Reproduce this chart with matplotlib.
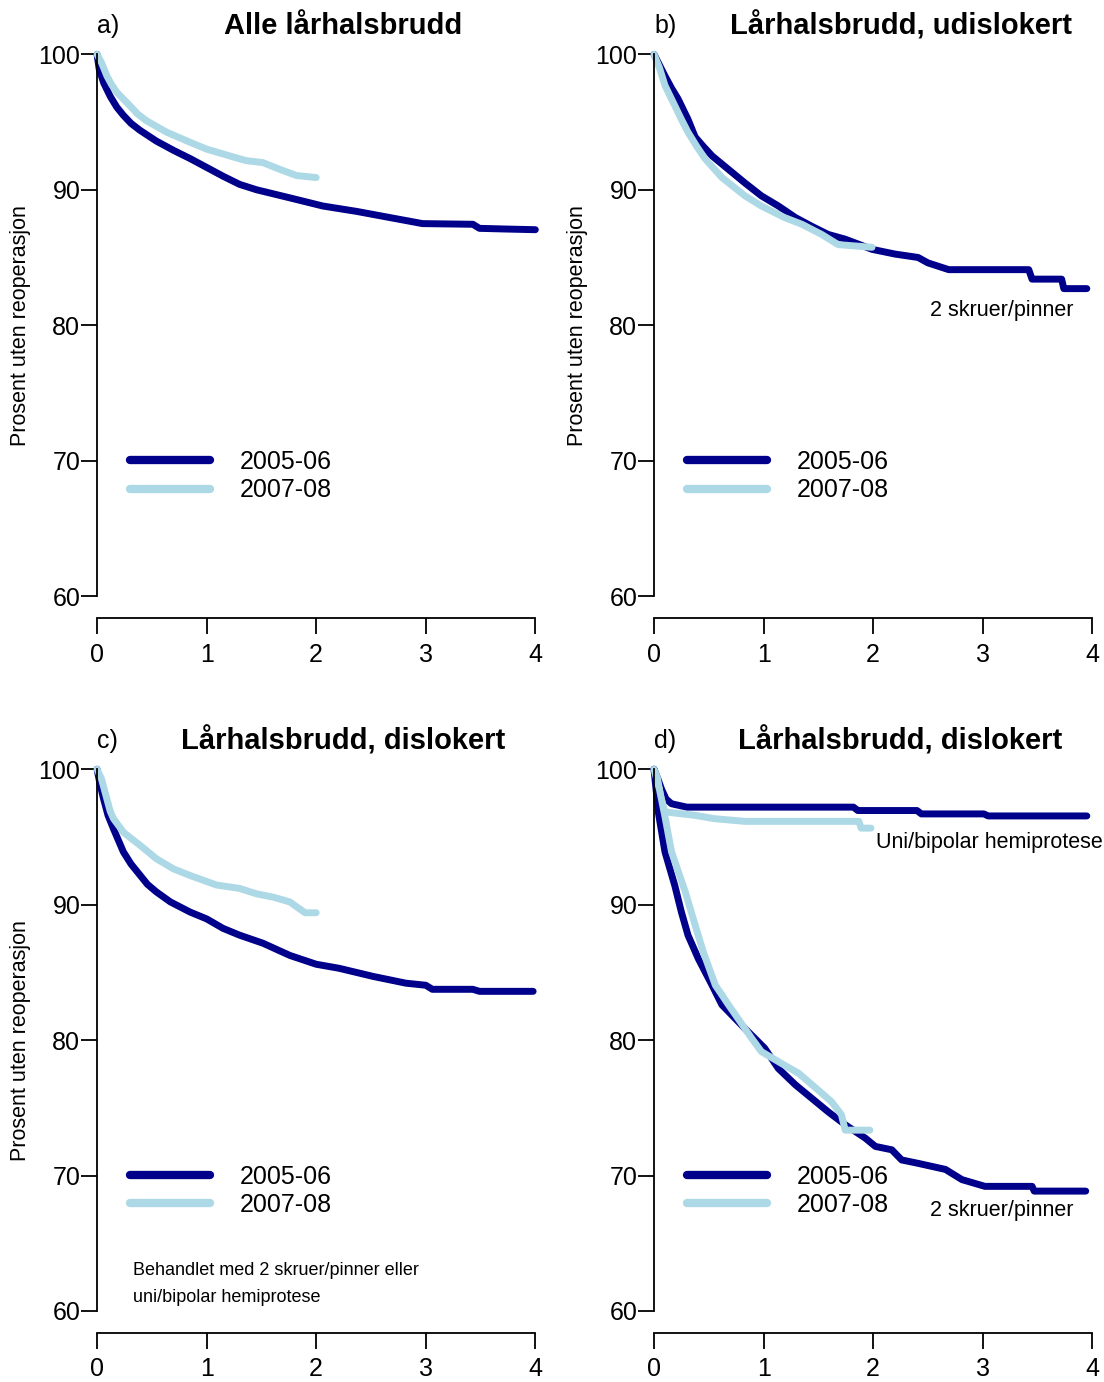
import matplotlib
matplotlib.use("Agg")
import matplotlib.pyplot as plt

plt.rcParams["font.family"] = ["Liberation Sans", "DejaVu Sans"]

# ---------------- DATA (år etter operasjon, prosent uten reoperasjon) ----------------

# a) Alle lårhalsbrudd
a_t_0506 = [0, 0.02, 0.06, 0.12, 0.18, 0.24, 0.31, 0.39, 0.54, 0.70, 0.85, 1.00, 1.15, 1.30,
            1.455, 1.76, 2.06, 2.37, 2.67, 2.97, 3.43, 3.49, 3.73, 4.0]
a_s_0506 = [100, 98.9, 97.9, 96.9, 96.1, 95.5, 94.9, 94.4, 93.6, 92.9, 92.3, 91.65, 91.0, 90.4,
            90.0, 89.4, 88.8, 88.4, 87.95, 87.5, 87.45, 87.15, 87.1, 87.05]
a_t_0708 = [0, 0.04, 0.09, 0.13, 0.18, 0.24, 0.30, 0.37, 0.45, 0.635, 0.85, 1.0, 1.21, 1.36,
            1.515, 1.67, 1.82, 2.0]
a_s_0708 = [100, 99.4, 98.4, 97.8, 97.2, 96.7, 96.2, 95.6, 95.1, 94.25, 93.5, 93.0, 92.5, 92.15,
            92.0, 91.5, 91.05, 90.9]

# b) Lårhalsbrudd, udislokert
b_t_0506 = [0, 0.05, 0.10, 0.16, 0.22, 0.31, 0.375, 0.45, 0.53, 0.68, 0.83, 0.98, 1.135, 1.29,
            1.44, 1.59, 1.745, 1.99, 2.20, 2.41, 2.50, 2.69, 3.42, 3.45, 3.72, 3.74, 3.95]
b_s_0506 = [100, 99.2, 98.4, 97.5, 96.7, 95.2, 93.9, 93.2, 92.5, 91.5, 90.5, 89.55, 88.8, 87.95,
            87.3, 86.7, 86.35, 85.6, 85.25, 85.0, 84.6, 84.1, 84.1, 83.4, 83.4, 82.7, 82.7]
b_t_0708 = [0, 0.05, 0.10, 0.19, 0.25, 0.31, 0.39, 0.465, 0.62, 0.83, 0.98, 1.19, 1.35, 1.53,
            1.68, 1.99]
b_s_0708 = [100, 99.0, 97.7, 96.2, 95.2, 94.25, 93.2, 92.3, 90.9, 89.55, 88.8, 87.95, 87.45, 86.7,
            85.95, 85.75]

# c) Lårhalsbrudd, dislokert
c_t_0506 = [0, 0.03, 0.06, 0.10, 0.15, 0.24, 0.31, 0.39, 0.46, 0.54, 0.67, 0.85, 1.0, 1.15,
            1.30, 1.515, 1.76, 2.0, 2.21, 2.52, 2.82, 3.0, 3.06, 3.43, 3.49, 3.98]
c_s_0506 = [100, 98.8, 97.8, 96.6, 95.6, 93.9, 93.0, 92.2, 91.5, 90.95, 90.2, 89.45, 88.95, 88.25,
            87.75, 87.15, 86.25, 85.6, 85.3, 84.7, 84.2, 84.05, 83.75, 83.75, 83.6, 83.6]
c_t_0708 = [0, 0.04, 0.09, 0.12, 0.15, 0.20, 0.24, 0.31, 0.39, 0.54, 0.695, 0.85, 1.09, 1.30,
            1.455, 1.61, 1.76, 1.82, 1.90, 2.0]
c_s_0708 = [100, 99.3, 97.8, 96.9, 96.35, 95.8, 95.35, 94.9, 94.4, 93.4, 92.65, 92.15, 91.45, 91.2,
            90.8, 90.55, 90.2, 89.85, 89.4, 89.4]

# d) Lårhalsbrudd, dislokert: hemiprotese og 2 skruer/pinner
d_hemi_t_0506 = [0, 0.03, 0.07, 0.11, 0.16, 0.30, 1.82, 1.86, 2.40, 2.44, 3.01, 3.05, 3.95]
d_hemi_s_0506 = [100, 99.4, 98.5, 97.8, 97.45, 97.2, 97.2, 96.95, 96.95, 96.7, 96.7, 96.55, 96.55]
d_hemi_t_0708 = [0, 0.03, 0.06, 0.10, 0.37, 0.55, 0.83, 1.87, 1.89, 1.98]
d_hemi_s_0708 = [100, 99.4, 98.0, 96.85, 96.6, 96.35, 96.15, 96.15, 95.65, 95.65]
d_skr_t_0506 = [0, 0.04, 0.10, 0.19, 0.25, 0.31, 0.405, 0.53, 0.62, 0.83, 1.01, 1.135, 1.29,
                1.44, 1.59, 1.745, 1.93, 2.02, 2.17, 2.26, 2.41, 2.66, 2.81, 3.02, 3.45,
                3.47, 3.94]
d_skr_s_0506 = [100, 96.8, 93.9, 91.4, 89.45, 87.75, 86.0, 84.05, 82.6, 80.85, 79.4, 77.9, 76.7,
                75.7, 74.7, 73.75, 72.75, 72.15, 71.9, 71.15, 70.9, 70.45, 69.7, 69.2, 69.2,
                68.85, 68.85]
d_skr_t_0708 = [0, 0.05, 0.10, 0.16, 0.285, 0.375, 0.45, 0.56, 0.68, 0.89, 0.98, 1.19, 1.32,
                1.50, 1.62, 1.71, 1.745, 1.97]
d_skr_s_0708 = [100, 98.5, 96.5, 93.9, 90.95, 88.5, 86.5, 84.05, 82.6, 80.15, 79.15, 78.15, 77.55,
                76.3, 75.45, 74.5, 73.35, 73.35]

labels = ["2005-06", "2007-08"]
DARK = "#00008B"
LIGHT = "#ADD8E6"
LW = 5

# ---------------- FIGUR ----------------

fig = plt.figure(figsize=(11.04, 13.82), dpi=100)

left_a, left_b = 0.0879, 0.5924
width = 0.397
height = 0.392
bottom_top, bottom_low = 0.5687, 0.0514

ax_a = fig.add_axes([left_a, bottom_top, width, height])
ax_b = fig.add_axes([left_b, bottom_top, width, height])
ax_c = fig.add_axes([left_a, bottom_low, width, height])
ax_d = fig.add_axes([left_b, bottom_low, width, height])


def style(ax, letter, title, ylabel=True):
    ax.set_xlim(0, 4)
    ax.set_ylim(60, 100)
    ax.set_xticks([0, 1, 2, 3, 4])
    ax.set_yticks([60, 70, 80, 90, 100])
    for side in ["top", "right"]:
        ax.spines[side].set_visible(False)
    ax.spines["left"].set_bounds(60, 100)
    ax.spines["bottom"].set_bounds(0, 4)
    ax.spines["bottom"].set_position(("outward", 16))
    for side in ["left", "bottom"]:
        ax.spines[side].set_linewidth(1.3)
    ax.tick_params(direction="out", length=11.5, width=1.3, labelsize=18)
    ax.tick_params(axis="y", pad=0.5)
    ax.tick_params(axis="x", pad=6)
    ax.text(0, 102.1, letter, fontsize=18, ha="left", va="center", clip_on=False)
    ax.text(2.25, 102.1, title, fontsize=21, fontweight="bold", ha="center",
            va="center", clip_on=False)
    if ylabel:
        ax.text(-0.70, 80, "Prosent uten reoperasjon", fontsize=15.5, rotation=90,
                ha="center", va="center", clip_on=False)


def curves(ax, t1, s1, t2, s2, legend=True):
    ax.plot(t1, s1, color=DARK, lw=LW, solid_capstyle="round",
            solid_joinstyle="round", clip_on=False,
            label=labels[0] if legend else None)
    ax.plot(t2, s2, color=LIGHT, lw=LW, solid_capstyle="round",
            solid_joinstyle="round", clip_on=False,
            label=labels[1] if legend else None)
    if legend:
        leg = ax.legend(loc="upper left", bbox_to_anchor=(0.075, 0.270), frameon=False,
                        fontsize=18, handlelength=3.2, handletextpad=1.2,
                        labelspacing=0.18, borderpad=0, borderaxespad=0)
        for line in leg.get_lines():
            line.set_linewidth(6)
            line.set_solid_capstyle("round")


style(ax_a, "a)", "Alle lårhalsbrudd")
curves(ax_a, a_t_0506, a_s_0506, a_t_0708, a_s_0708)

style(ax_b, "b)", "Lårhalsbrudd, udislokert")
curves(ax_b, b_t_0506, b_s_0506, b_t_0708, b_s_0708)
ax_b.text(3.83, 81.1, "2 skruer/pinner", fontsize=15.5, ha="right", va="center")

style(ax_c, "c)", "Lårhalsbrudd, dislokert")
curves(ax_c, c_t_0506, c_s_0506, c_t_0708, c_s_0708)
ax_c.text(0.33, 63.0, "Behandlet med 2 skruer/pinner eller", fontsize=13,
          ha="left", va="center")
ax_c.text(0.33, 61.0, "uni/bipolar hemiprotese", fontsize=13, ha="left", va="center")

style(ax_d, "d)", "Lårhalsbrudd, dislokert", ylabel=False)
curves(ax_d, d_hemi_t_0506, d_hemi_s_0506, d_hemi_t_0708, d_hemi_s_0708, legend=False)
curves(ax_d, d_skr_t_0506, d_skr_s_0506, d_skr_t_0708, d_skr_s_0708)
ax_d.text(2.03, 94.6, "Uni/bipolar hemiprotese", fontsize=15.5, ha="left",
          va="center", clip_on=False)
ax_d.text(3.83, 67.4, "2 skruer/pinner", fontsize=15.5, ha="right", va="center")

fig.savefig("out.png", dpi=100)
